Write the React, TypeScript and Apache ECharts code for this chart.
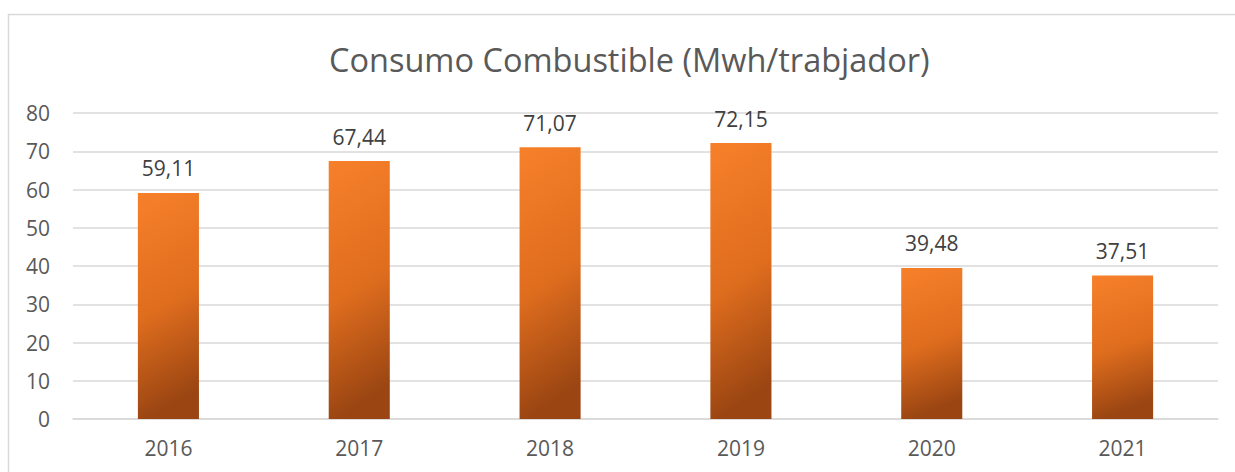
import React, { useEffect, useRef } from "react";
import * as echarts from "echarts";

const categories = ["2016", "2017", "2018", "2019", "2020", "2021"];
const values = [59.11, 67.44, 71.07, 72.15, 39.48, 37.51];
const yTicks = { min: 0, max: 80, interval: 10 };
const title = "Consumo Combustible (Mwh/trabjador)";

export default function App() {
  const ref = useRef<HTMLDivElement>(null);
  useEffect(() => {
    if (!ref.current) return;
    const chart = echarts.init(ref.current, undefined, { renderer: "svg" });
    const font = "Open Sans";
    chart.setOption({
      animation: false,
      backgroundColor: "#ffffff",
      title: {
        text: title,
        left: 324,
        top: 38,
        textStyle: { fontFamily: font, fontSize: 32.5, fontWeight: "normal", color: "#595959" },
      },
      graphic: [
        {
          type: "rect",
          shape: { x: 8.5, y: 14.5, width: 1400, height: 600 },
          style: { fill: "none", stroke: "#d9d9d9", lineWidth: 1.5 },
          silent: true,
        },
      ],
      grid: { left: 73, right: 17, top: 113, bottom: 53, containLabel: false },
      xAxis: {
        type: "category",
        data: categories,
        axisLine: { lineStyle: { color: "#d9d9d9", width: 1.5 } },
        axisTick: { show: false },
        axisLabel: { color: "#595959", fontFamily: font, fontSize: 21, margin: 18 },
      },
      yAxis: {
        type: "value",
        min: yTicks.min,
        max: yTicks.max,
        interval: yTicks.interval,
        axisLine: { show: false },
        axisTick: { show: false },
        splitLine: { lineStyle: { color: "#d9d9d9", width: 1.5 } },
        axisLabel: { color: "#595959", fontFamily: font, fontSize: 21, margin: 23 },
      },
      series: [
        {
          type: "bar",
          data: values,
          barWidth: "32%",
          itemStyle: {
            color: new echarts.graphic.LinearGradient(0, 0, 0.15, 1, [
              { offset: 0, color: "#f7802a" },
              { offset: 0.55, color: "#df6d1e" },
              { offset: 1, color: "#9a4512" },
            ]),
          },
          label: {
            show: true,
            position: "top",
            distance: 14,
            color: "#404040",
            fontFamily: font,
            fontSize: 21,
            formatter: (p: any) => p.value.toFixed(2).replace(".", ","),
          },
        },
      ],
    });
    return () => chart.dispose();
  }, []);
  return (
    <div
      ref={ref}
      style={{ position: "absolute", left: 0, top: 0, width: 1235, height: 472 }}
    />
  );
}
